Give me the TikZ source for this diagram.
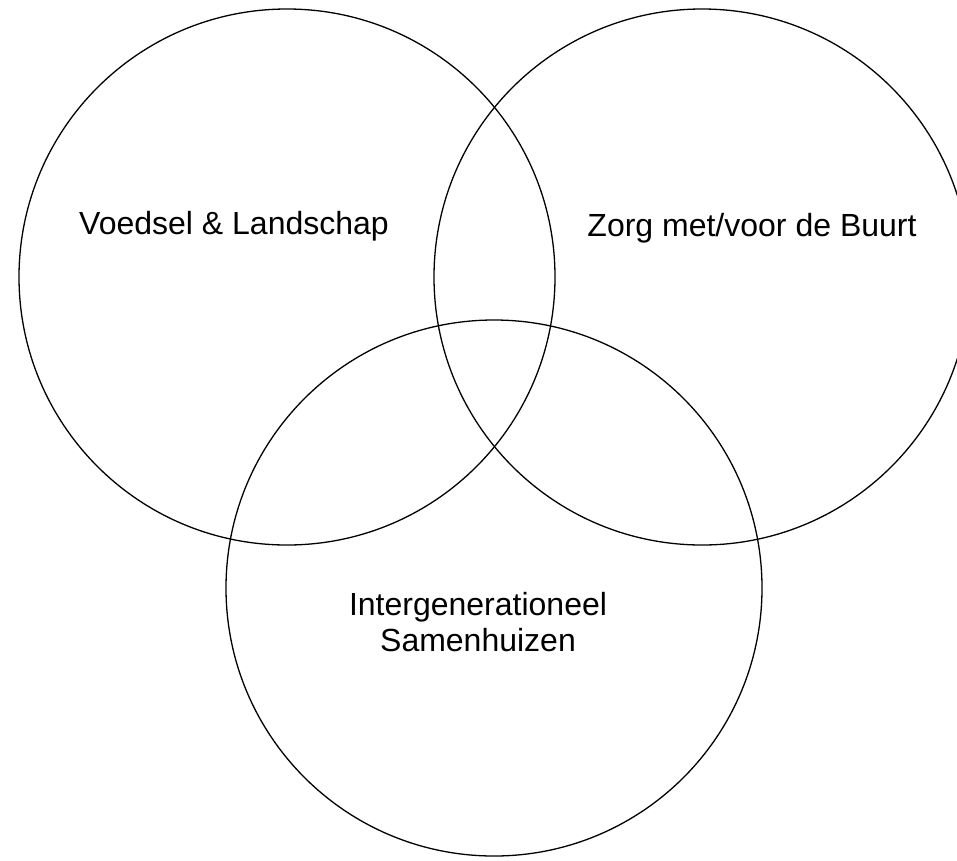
\documentclass[tikz,border=0pt]{standalone}
\usepackage{fontspec}
\setmainfont{Liberation Sans}
\begin{document}
\begin{tikzpicture}[x=1pt,y=-1pt,
  ring/.style={draw=black,line width=1.3pt},
  lbl/.style={font=\fontsize{32}{36}\selectfont,align=center,inner sep=0pt}]
\useasboundingbox (0,0) rectangle (957,860);
\begin{scope}
\clip (0,0) rectangle (957,860);
\draw[ring] (287,277) circle[radius=268pt];
\draw[ring] (702,277) circle[radius=268pt];
\draw[ring] (494,588) circle[radius=268pt];
\end{scope}
\node[lbl] (voedsel) at (234,226) {Voedsel \& Landschap};
\node[lbl] (zorg) at (752,228) {Zorg met/voor de Buurt};
\node[lbl] (inter) at (478,622) {Intergenerationeel\\Samenhuizen};
\end{tikzpicture}
\end{document}
